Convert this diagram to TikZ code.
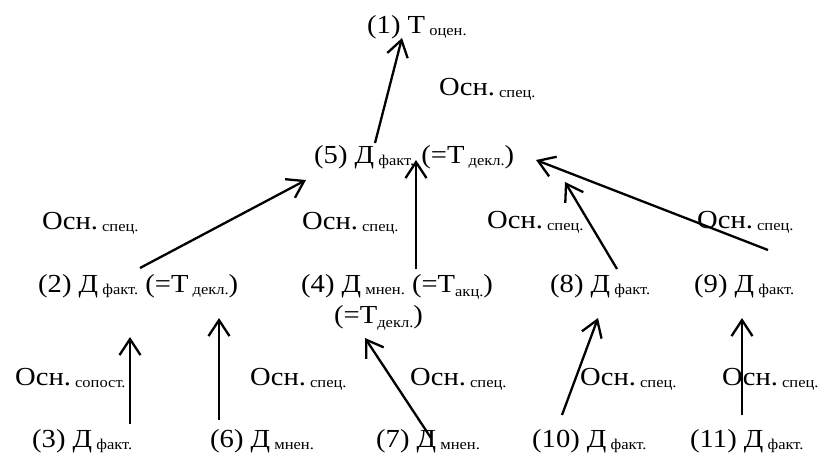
\documentclass[tikz,border=0pt]{standalone}
\usepackage{fontspec}
\setmainfont[FakeStretch=1.1]{Liberation Serif}
\usetikzlibrary{arrows.meta}
\newcommand\lo[1]{\raisebox{-2pt}{\fontsize{15}{15}\selectfont\ #1}}
\newcommand\loo[1]{\raisebox{-4pt}{\fontsize{15}{15}\selectfont #1}}
\begin{document}
\begin{tikzpicture}[x=1pt,y=-1pt,
  lbl/.style={inner sep=0pt,anchor=base west,font=\fontsize{26}{28}\selectfont},
  arr/.style={line width=2.3pt,-{Straight Barb[length=16pt,width=21pt,line width=2.3pt]}}]
\useasboundingbox (0,0) rectangle (820,464);
% nodes
\node[lbl] (n1) at (367,33) {(1) Т\lo{оцен.}};
\node[lbl] (o1) at (439,95) {Осн.\lo{спец.}};
\node[lbl] (n5) at (314,163) {(5) Д\lo{факт.} (=Т\lo{декл.})};
\node[lbl] (o2) at (42,229) {Осн.\lo{спец.}};
\node[lbl] (o3) at (302,229) {Осн.\lo{спец.}};
\node[lbl] (o4) at (487,228) {Осн.\lo{спец.}};
\node[lbl] (o5) at (697,228) {Осн.\lo{спец.}};
\node[lbl] (n2) at (38,292) {(2) Д\lo{факт.} (=Т\lo{декл.})};
\node[lbl] (n4) at (301,292) {(4) Д\lo{мнен.} (=Т\loo{акц.})};
\node[lbl] (n4b) at (334,323) {(=Т\loo{декл.})};
\node[lbl] (n8) at (550,292) {(8) Д\lo{факт.}};
\node[lbl] (n9) at (694,292) {(9) Д\lo{факт.}};
\node[lbl] (o6) at (15,385) {Осн.\lo{сопост.}};
\node[lbl] (o7) at (250,385) {Осн.\lo{спец.}};
\node[lbl] (o8) at (410,385) {Осн.\lo{спец.}};
\node[lbl] (o9) at (580,385) {Осн.\lo{спец.}};
\node[lbl] (o10) at (722,385) {Осн.\lo{спец.}};
\node[lbl] (n3) at (32,447) {(3) Д\lo{факт.}};
\node[lbl] (n6) at (210,447) {(6) Д\lo{мнен.}};
\node[lbl] (n7) at (376,447) {(7) Д\lo{мнен.}};
\node[lbl] (n10) at (532,447) {(10) Д\lo{факт.}};
\node[lbl] (n11) at (690,447) {(11) Д\lo{факт.}};
% connector ends
\coordinate (s5) at (375,143);  \coordinate (t1) at (402,38);
\coordinate (s2) at (140,268);  \coordinate (t5a) at (306,180);
\coordinate (s4) at (416,269);  \coordinate (t5b) at (416,160);
\coordinate (s8) at (617,269);  \coordinate (t5c) at (565,182);
\coordinate (s9) at (768,250);  \coordinate (t5d) at (536,160);
\coordinate (s3) at (130,424);  \coordinate (t2a) at (130,337);
\coordinate (s6) at (219,420);  \coordinate (t2b) at (219,318);
\coordinate (s7) at (431,438);  \coordinate (t4) at (365,338);
\coordinate (s10) at (562,415); \coordinate (t8) at (598,318);
\coordinate (s11) at (742,415); \coordinate (t9) at (742,318);
\draw[arr] (s5) -- (t1);
\draw[arr] (s2) -- (t5a);
\draw[arr] (s4) -- (t5b);
\draw[arr] (s8) -- (t5c);
\draw[arr] (s9) -- (t5d);
\draw[arr] (s3) -- (t2a);
\draw[arr] (s6) -- (t2b);
\draw[arr] (s7) -- (t4);
\draw[arr] (s10) -- (t8);
\draw[arr] (s11) -- (t9);
\end{tikzpicture}
\end{document}
